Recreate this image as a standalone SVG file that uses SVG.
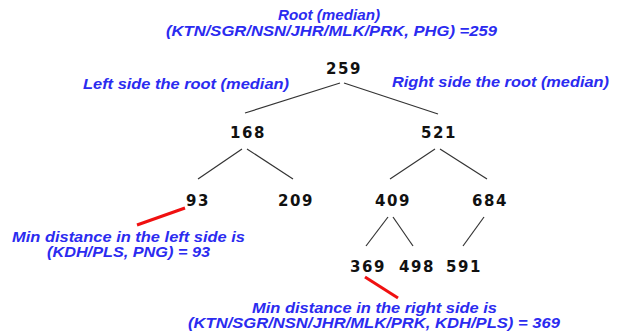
<svg xmlns="http://www.w3.org/2000/svg" width="618" height="335" viewBox="0 0 618 335">
<style>
.lbl{font-family:"Liberation Sans",Arial,sans-serif;font-weight:bold;font-style:italic;font-size:14.5px;fill:#2b2bf0;text-anchor:middle}
.num{font-family:"DejaVu Sans",sans-serif;font-weight:bold;font-size:15px;fill:#111;text-anchor:middle;letter-spacing:1.5px}
.edge{stroke:#333;stroke-width:1.2;fill:none}
.red{stroke:#f01010;stroke-width:3;fill:none}
</style>
<rect width="618" height="335" fill="#fff"/>
<g id="connectors">
<line class="edge" x1="340" y1="83" x2="245" y2="113"/>
<line class="edge" x1="344" y1="83" x2="438" y2="114"/>
<line class="edge" x1="242" y1="149" x2="198" y2="179"/>
<line class="edge" x1="247" y1="149" x2="293" y2="179"/>
<line class="edge" x1="435" y1="149" x2="390" y2="179"/>
<line class="edge" x1="440" y1="149" x2="487" y2="179"/>
<line class="edge" x1="388" y1="217" x2="366" y2="246"/>
<line class="edge" x1="393" y1="217" x2="413" y2="246"/>
<line class="edge" x1="484" y1="217" x2="463" y2="246"/>
<line class="red" x1="137" y1="225" x2="185" y2="208"/>
<line class="red" x1="365" y1="277" x2="398" y2="298"/>
</g>
<g id="title"><text class="lbl" x="329" y="20" textLength="102" lengthAdjust="spacingAndGlyphs">Root (median)</text><text class="lbl" x="331.5" y="36" textLength="331" lengthAdjust="spacingAndGlyphs">(KTN/SGR/NSN/JHR/MLK/PRK, PHG) =259</text></g>
<g id="left-label"><text class="lbl" x="186" y="89" textLength="206" lengthAdjust="spacingAndGlyphs">Left side the root (median)</text></g>
<g id="right-label"><text class="lbl" x="500.5" y="87" textLength="217" lengthAdjust="spacingAndGlyphs">Right side the root (median)</text></g>
<g id="n259"><text class="num" x="344" y="74">259</text></g>
<g id="n168"><text class="num" x="248" y="138">168</text></g>
<g id="n521"><text class="num" x="439" y="138">521</text></g>
<g id="n93"><text class="num" x="198" y="206">93</text></g>
<g id="n209"><text class="num" x="296" y="206">209</text></g>
<g id="n409"><text class="num" x="393" y="206">409</text></g>
<g id="n684"><text class="num" x="490" y="206">684</text></g>
<g id="n369"><text class="num" x="368" y="272">369</text></g>
<g id="n498"><text class="num" x="417" y="272">498</text></g>
<g id="n591"><text class="num" x="464" y="272">591</text></g>
<g id="left-min"><text class="lbl" x="128.5" y="242" textLength="233" lengthAdjust="spacingAndGlyphs">Min distance in the left side is</text><text class="lbl" x="128.5" y="257" textLength="163" lengthAdjust="spacingAndGlyphs">(KDH/PLS, PNG) = 93</text></g>
<g id="right-min"><text class="lbl" x="374.5" y="313" textLength="245" lengthAdjust="spacingAndGlyphs">Min distance in the right side is</text><text class="lbl" x="374" y="328" textLength="372" lengthAdjust="spacingAndGlyphs">(KTN/SGR/NSN/JHR/MLK/PRK, KDH/PLS) = 369</text></g>
</svg>
